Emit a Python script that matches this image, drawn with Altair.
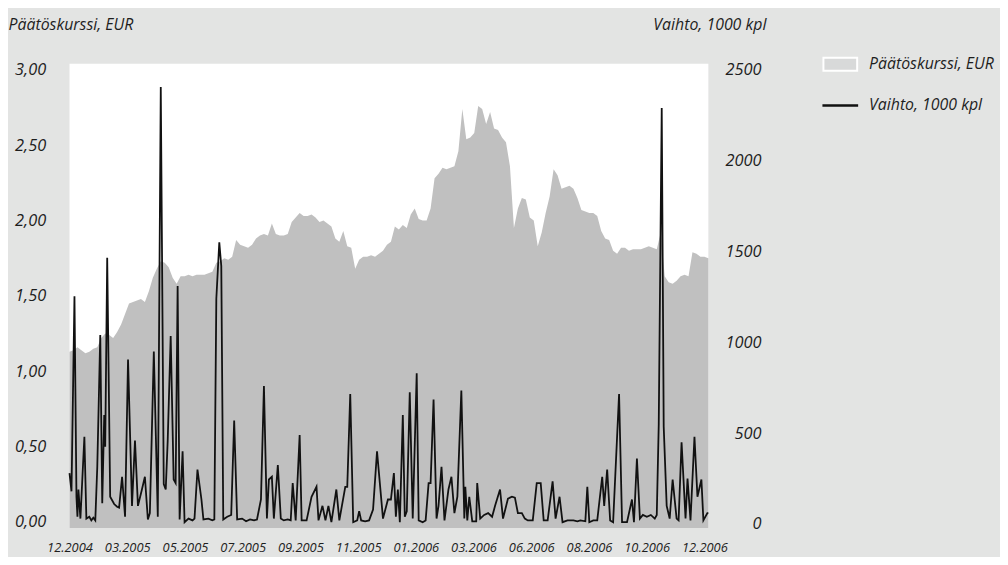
import altair as alt
import pandas as pd

# ---- data ----
X_LABELS = ["12.2004", "03.2005", "05.2005", "07.2005", "09.2005", "11.2005",
            "01.2006", "03.2006", "06.2006", "08.2006", "10.2006", "12.2006"]

# closing price, EUR (one value every 2 trading-day steps)
PRICE = [1.13, 1.14, 1.16, 1.14, 1.12, 1.13, 1.15, 1.16, 1.22, 1.25, 1.24, 1.22, 1.26, 1.31,
         1.38, 1.45, 1.46, 1.47, 1.48, 1.46, 1.53, 1.62, 1.68, 1.73, 1.72, 1.69, 1.62, 1.58,
         1.63, 1.63, 1.64, 1.63, 1.64, 1.64, 1.64, 1.65, 1.66, 1.72, 1.73, 1.75, 1.74, 1.76,
         1.87, 1.84, 1.83, 1.82, 1.84, 1.88, 1.90, 1.91, 1.90, 1.98, 1.91, 1.90, 1.90, 1.91,
         1.99, 2.02, 2.05, 2.03, 2.03, 2.04, 2.02, 1.99, 2.00, 1.98, 1.96, 1.88, 1.86, 1.93,
         1.83, 1.82, 1.68, 1.74, 1.76, 1.76, 1.77, 1.76, 1.78, 1.80, 1.84, 1.86, 1.96, 1.94,
         1.97, 1.95, 2.04, 2.08, 2.01, 2.00, 2.00, 2.08, 2.28, 2.31, 2.35, 2.34, 2.35, 2.36,
         2.46, 2.74, 2.54, 2.55, 2.58, 2.76, 2.74, 2.64, 2.72, 2.61, 2.60, 2.55, 2.52, 2.36,
         1.95, 2.08, 2.15, 2.14, 2.02, 2.00, 1.83, 1.92, 2.05, 2.16, 2.34, 2.30, 2.21, 2.22,
         2.23, 2.21, 2.15, 2.07, 2.06, 2.05, 2.05, 2.03, 1.93, 1.88, 1.87, 1.80, 1.78, 1.82,
         1.82, 1.80, 1.81, 1.81, 1.81, 1.82, 1.83, 1.82, 1.81, 1.92, 1.63, 1.59, 1.58, 1.60,
         1.63, 1.64, 1.63, 1.79, 1.78, 1.76, 1.76, 1.75]
PRICE_DAY = [2 * i for i in range(len(PRICE))]

# trading volume, 1000 pcs
VOL_DAY = [0, 1, 2.5, 3.5, 4, 4.5, 5.5, 7.5, 8.5, 10, 11, 12, 13, 14, 15.5, 16.5, 17.5, 18, 19,
           20.5, 22.5, 24, 25, 26.5, 28, 29.5, 31.5, 33, 34.5, 36.5, 38, 39.5, 40.5, 42.5, 44.5,
           46, 47.5, 48.5, 49.5, 51, 52.5, 53.5, 54.5, 55.5, 57, 58, 60, 62, 63, 64.5, 66.5,
           67.5, 70, 72, 73, 74, 75.5, 76.5, 77.5, 79.5, 81.5, 83, 84.5, 87, 89, 91, 93, 94.5,
           96.5, 98, 99.5, 100.5, 102, 103, 105, 106.5, 108, 110, 111.5, 112.5, 114, 116, 117,
           119.5, 122, 124.5, 125.5, 127.5, 129, 130.5, 132, 134.5, 136, 139, 140, 141.5, 143,
           145, 146, 147, 149, 151, 153, 155, 158, 160.5, 162, 163.5, 164.5, 165.5, 166.5, 168,
           169, 170, 171.5, 173, 175, 176, 178, 179.5, 181, 182, 183.5, 185, 186, 187.5, 189,
           191, 192.5, 194, 195.5, 197.5, 199, 199.5, 200.5, 201.5, 203, 205, 205.5, 207, 209,
           211, 213, 214.5, 217, 218.5, 221, 223, 224.5, 226, 228, 229.5, 231, 233.5, 235.5,
           237.5, 239, 241, 243.5, 245, 247, 248.5, 251, 254, 256, 257.5, 260, 261, 262, 264,
           266, 268.5, 269.5, 271, 272.5, 274, 277, 278.5, 281, 283.5, 284.5, 286, 287.5, 289,
           291, 293, 295, 296, 297, 298.5, 299.5, 301, 302.5, 304, 306, 307, 308.5, 310.5,
           311.5, 313, 315, 316.5, 318.5, 319.5, 321.5, 322]
VOL = [280, 180, 1253, 150, 40, 190, 30, 480, 30, 40, 20, 35, 20, 315, 1040, 115, 600, 425, 1465,
       150, 110, 95, 90, 260, 40, 905, 100, 460, 100, 190, 260, 25, 60, 950, 40,
       2405, 220, 190, 460, 1035, 245, 225, 1310, 25, 400, 10, 30, 20, 30, 300, 135,
       25, 30, 20, 25, 1240, 1550, 1420, 25, 40, 50, 570, 25, 30, 15, 25, 20, 25,
       135, 760, 30, 245, 260, 30, 325, 30, 20, 25, 20, 225, 20, 490, 20,
       20, 150, 205, 20, 100, 20, 100, 10, 190, 20, 205, 205, 715, 10,
       20, 70, 20, 15, 20, 80, 400, 30, 135, 135, 280, 40, 190, 10, 600,
       40, 70, 725, 30, 830, 20, 10, 20, 225, 225, 685, 30, 100, 315, 20,
       190, 260, 60, 150, 735, 30, 205, 20, 150, 15, 15, 225, 30, 50,
       60, 40, 100, 190, 30, 140, 150, 145, 60, 60, 30, 20, 20, 225,
       225, 20, 20, 235, 30, 150, 10, 20, 20, 15, 20, 15, 205, 10, 20,
       20, 260, 100, 300, 20, 10, 715, 10, 10, 135, 10, 360, 30, 50,
       40, 50, 30, 50, 550, 2290, 535, 100, 30, 245, 30, 20, 450, 30,
       250, 20, 480, 150, 245, 20, 60, 60]

SERIES = ["Päätöskurssi, EUR", "Vaihto, 1000 kpl"]

price_df = pd.DataFrame({"day": PRICE_DAY, "price": PRICE})
vol_df = pd.DataFrame({"day": VOL_DAY, "vol": VOL})

FONT = "Open Sans"
TXT = "#1e1e1e"
W, H = 644, 468
X_MAX = 2 * (len(PRICE) - 1)
tick_step = (X_MAX - 2) / (len(X_LABELS) - 1)
tick_vals = [i * tick_step for i in range(len(X_LABELS))]
label_arr = "[" + ",".join("'%s'" % s for s in X_LABELS) + "]"

x_enc = alt.X("day:Q",
              scale=alt.Scale(domain=[0, X_MAX], nice=False, zero=False),
              axis=alt.Axis(values=tick_vals, title=None, grid=False, domain=False, ticks=False,
                            labelExpr=label_arr + "[round(datum.value / %f)]" % tick_step,
                            labelFontSize=13, labelBaseline="middle", labelPadding=20,
                            labelFlush=False, labelOverlap=False))

P_MIN, P_MAX = -0.04, 3.04
area = alt.Chart(price_df).mark_area(color="#c0c0c0", opacity=1).encode(
    x=x_enc,
    y=alt.Y("price:Q",
            scale=alt.Scale(domain=[P_MIN, P_MAX], nice=False, zero=False),
            axis=alt.Axis(orient="left", values=[0, 0.5, 1, 1.5, 2, 2.5, 3],
                          labelExpr="replace(format(datum.value, '.2f'), '.', ',')",
                          grid=False, domain=False, ticks=False, labelPadding=24,
                          labelFontSize=16.5,
                          title=SERIES[0], titleAngle=0, titleAlign="left",
                          titleBaseline="middle", titleX=-62, titleY=-40, titleFontSize=16)),
    y2=alt.datum(P_MIN),
)

V_MIN, V_MAX = -22, 2533
line = alt.Chart(vol_df).mark_line(color="#111111", strokeWidth=1.8).encode(
    x=x_enc,
    y=alt.Y("vol:Q",
            scale=alt.Scale(domain=[V_MIN, V_MAX], nice=False, zero=False),
            axis=alt.Axis(orient="right", values=[0, 500, 1000, 1500, 2000, 2500], format="d",
                          grid=False, domain=False, ticks=False, labelAlign="right",
                          labelPadding=53, labelFontSize=16.5,
                          title=SERIES[1], titleAngle=0, titleAlign="right",
                          titleBaseline="middle", titleX=58, titleY=-40, titleFontSize=16)),
)

leg_df0 = pd.DataFrame({"label": [SERIES[0]]})
leg_df1 = pd.DataFrame({"label": [SERIES[1]]})
leg_rect = alt.Chart(leg_df0).mark_rect(fill="#d8d9d9", stroke="white", strokeWidth=2).encode(
    x=alt.value(760), x2=alt.value(794), y=alt.value(-6), y2=alt.value(7))
leg_rule = alt.Chart(leg_df1).mark_rule(color="#111111", strokeWidth=2.5).encode(
    x=alt.value(759), x2=alt.value(795), y=alt.value(42))
leg_t0 = alt.Chart(leg_df0).mark_text(align="left", baseline="middle", font=FONT, fontSize=16,
                                      fontStyle="italic", color=TXT).encode(
    x=alt.value(806), y=alt.value(0), text="label:N")
leg_t1 = alt.Chart(leg_df1).mark_text(align="left", baseline="middle", font=FONT, fontSize=16,
                                      fontStyle="italic", color=TXT).encode(
    x=alt.value(806), y=alt.value(42), text="label:N")

chart = alt.layer(area, line, leg_rect, leg_rule, leg_t0, leg_t1).resolve_scale(
    y="independent"
).properties(
    width=W, height=H,
    autosize=alt.AutoSizeParams(type="none"),
    padding={"left": 62, "top": 54, "right": 294, "bottom": 27},
    background="#e3e4e3",
).configure_view(
    fill="white", stroke=None
).configure_axis(
    labelFont=FONT, titleFont=FONT, labelFontStyle="italic", titleFontStyle="italic",
    titleFontWeight="normal", labelColor=TXT, titleColor=TXT
)

chart.save("out.html", embed_options={"renderer": "svg", "actions": False})
